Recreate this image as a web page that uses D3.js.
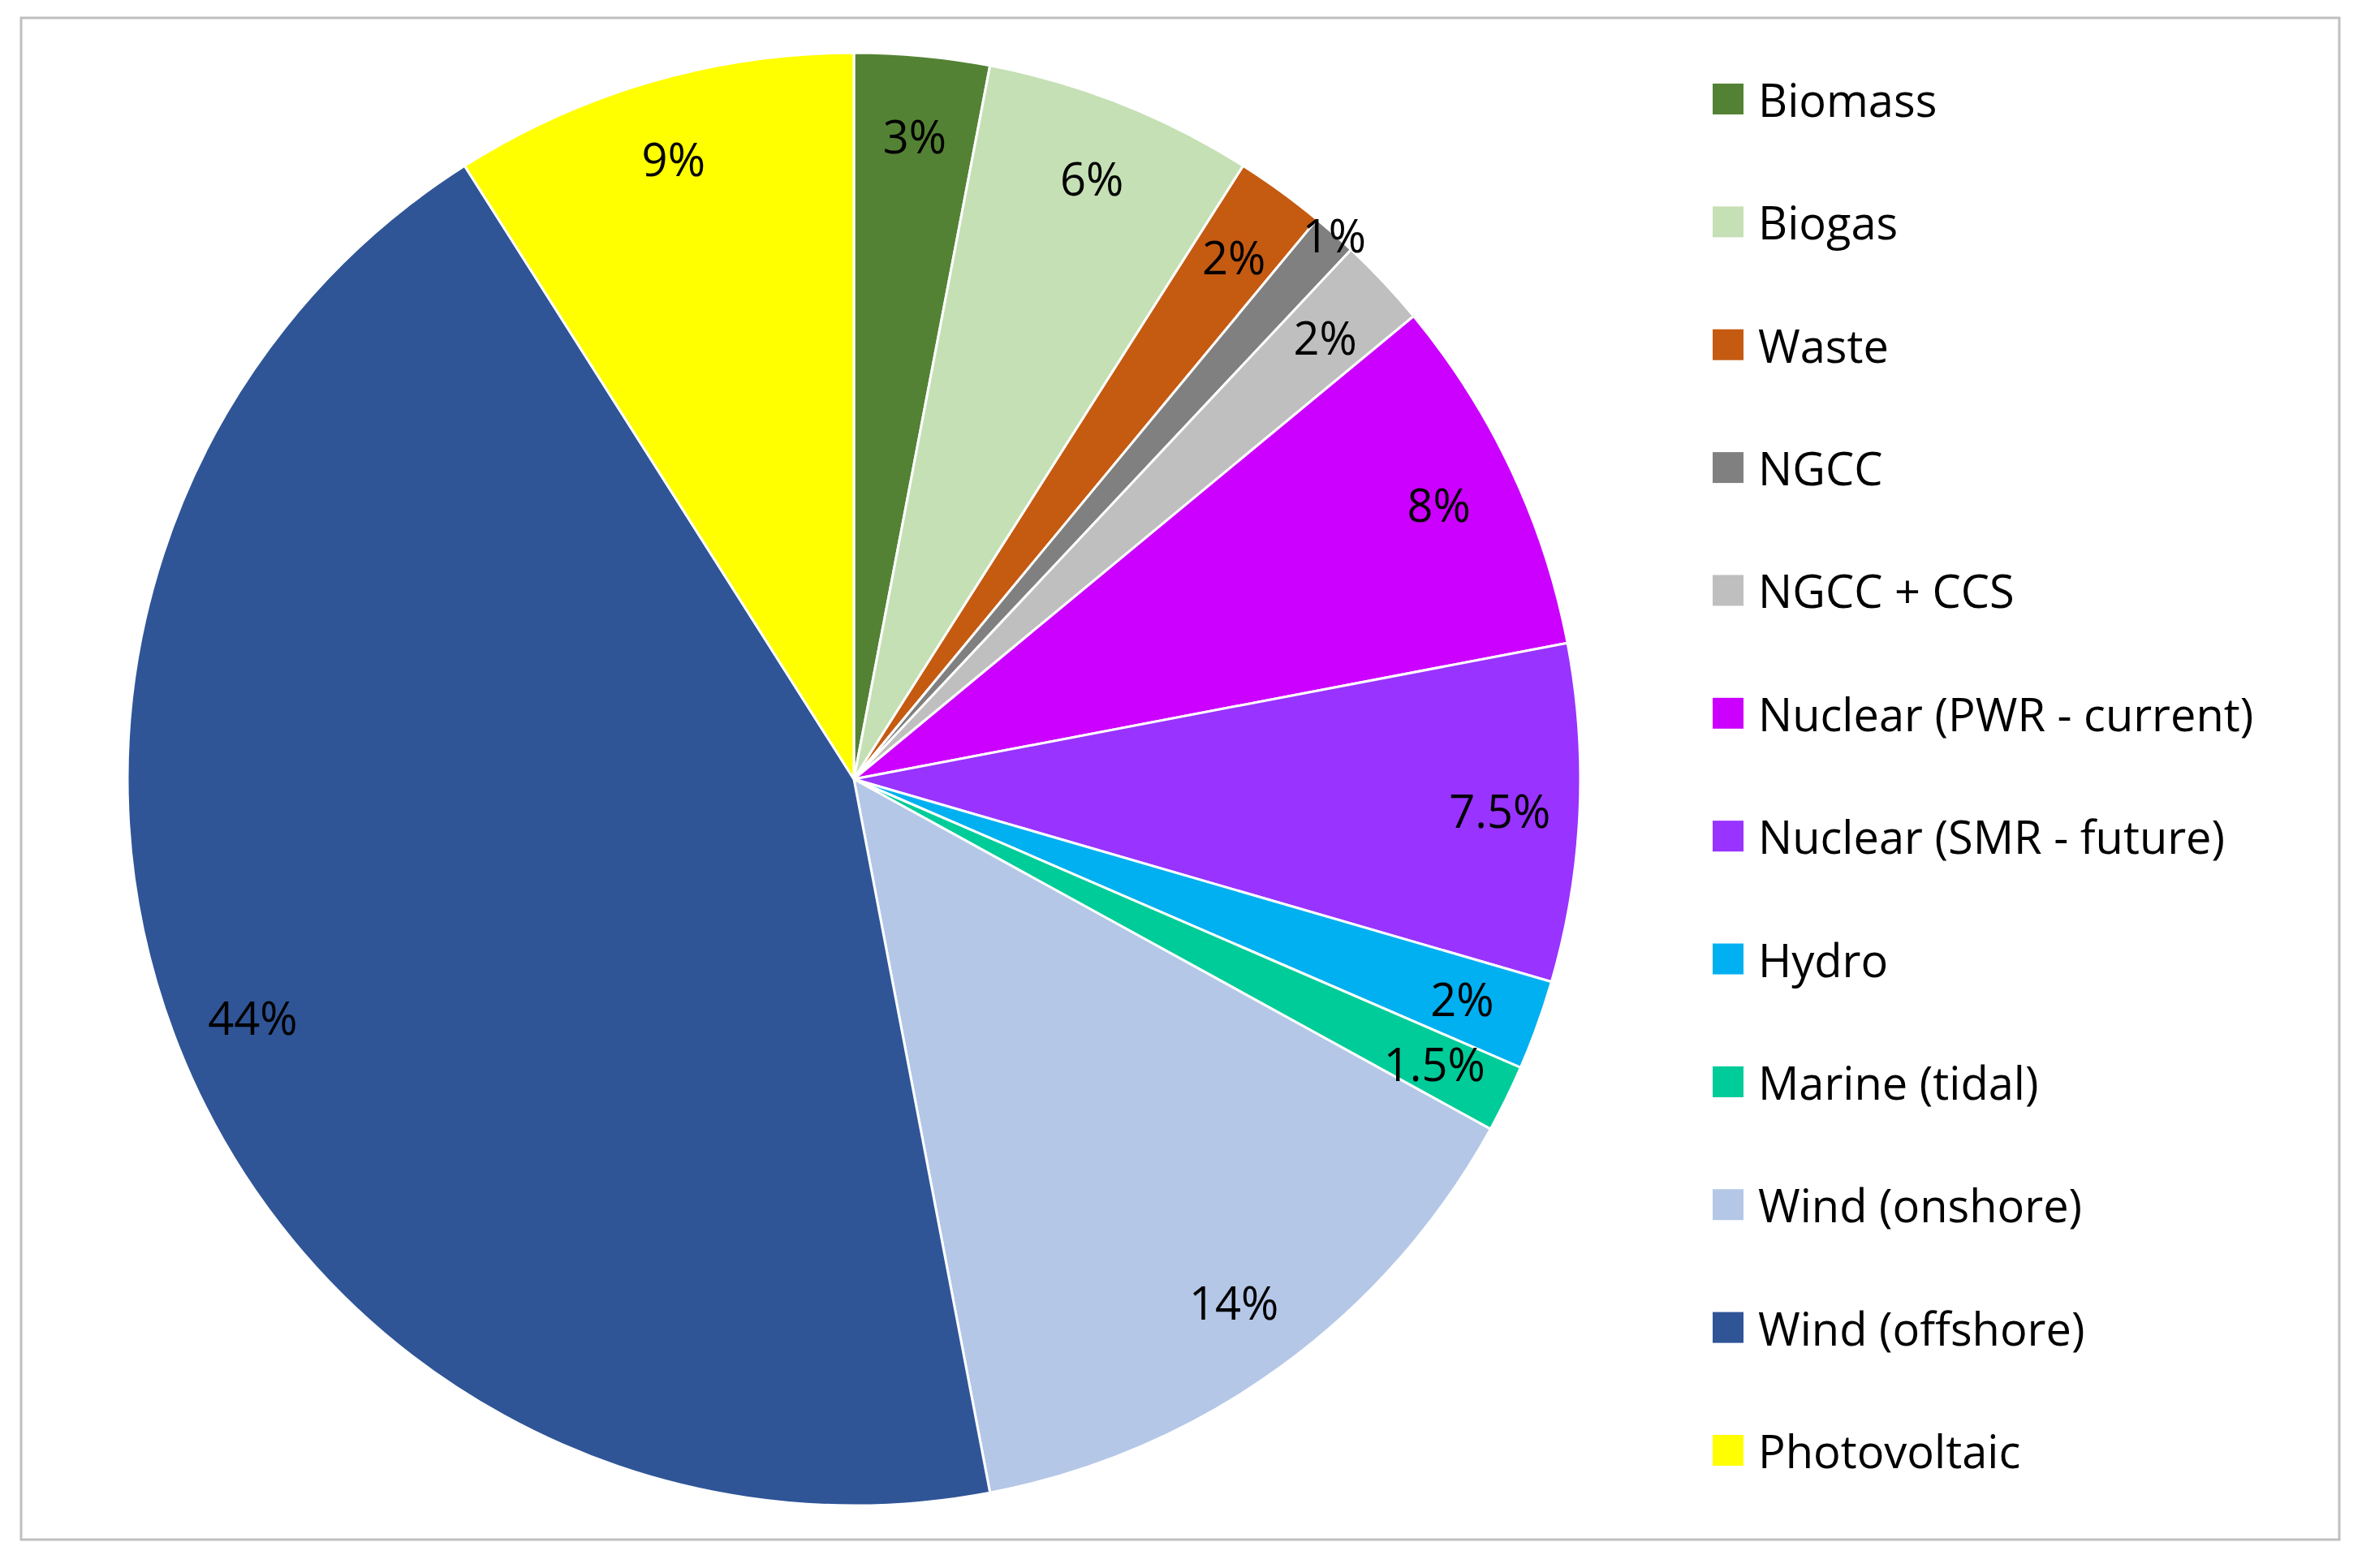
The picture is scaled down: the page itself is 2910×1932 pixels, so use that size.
<!DOCTYPE html>
<html>
<head>
<meta charset="utf-8">
<script src="https://cdn.jsdelivr.net/npm/d3@7"></script>
<style>
  body { margin: 0; background: #fff; }
  text { font-family: "Open Sans", Lato, sans-serif; }
</style>
</head>
<body>
<svg id="chart" width="2910" height="1932"></svg>
<script>
const categories = ["Biomass", "Biogas", "Waste", "NGCC", "NGCC + CCS",
  "Nuclear (PWR - current)", "Nuclear (SMR - future)", "Hydro", "Marine (tidal)",
  "Wind (onshore)", "Wind (offshore)", "Photovoltaic"];
const values = [3, 6, 2, 1, 2, 8, 7.5, 2, 1.5, 14, 44, 9];
const labels = ["3%", "6%", "2%", "1%", "2%", "8%", "7.5%", "2%", "1.5%", "14%", "44%", "9%"];
const colors = ["#548235", "#C5E0B4", "#C55A11", "#808080", "#BFBFBF", "#CC00FF",
  "#9933FF", "#00B0F0", "#00CC99", "#B4C7E7", "#2F5597", "#FFFF00"];

const svg = d3.select("#chart");
svg.append("rect").attr("x", 26).attr("y", 22).attr("width", 2856).attr("height", 1875)
  .attr("fill", "#fff").attr("stroke", "#bfbfbf").attr("stroke-width", 3);

const cx = 1052, cy = 960, r = 895;
const color = d3.scaleOrdinal().domain(categories).range(colors);
const pie = d3.pie().sort(null).value(d => d.v);
const data = pie(categories.map((c, i) => ({ c, v: values[i], l: labels[i] })));
const arc = d3.arc().innerRadius(0).outerRadius(r);

const g = svg.append("g").attr("transform", `translate(${cx},${cy})`);
g.selectAll("path").data(data).join("path")
  .attr("d", arc)
  .attr("fill", d => color(d.data.c))
  .attr("stroke", "#fff").attr("stroke-width", 3);

g.selectAll("text.lbl").data(data).join("text")
  .attr("class", "lbl")
  .attr("transform", d => {
    const k = d.data.v <= 1 ? 1.0 : 0.89;
    const [x, y] = d3.arc().innerRadius(r * k).outerRadius(r * k).centroid(d);
    return `translate(${x},${y})`;
  })
  .attr("text-anchor", "middle").attr("dominant-baseline", "central")
  .attr("font-size", 56).attr("fill", "#000")
  .text(d => d.data.l);

const y = d3.scalePoint().domain(categories).range([122, 1787]);
const lg = svg.append("g");
lg.selectAll("rect").data(categories).join("rect")
  .attr("x", 2110).attr("y", d => y(d) - 19).attr("width", 38).attr("height", 38)
  .attr("fill", d => color(d));
lg.selectAll("text").data(categories).join("text")
  .attr("x", 2166).attr("y", d => y(d)).attr("dominant-baseline", "central")
  .attr("font-size", 56).attr("fill", "#000")
  .text(d => d);
</script>
</body>
</html>
